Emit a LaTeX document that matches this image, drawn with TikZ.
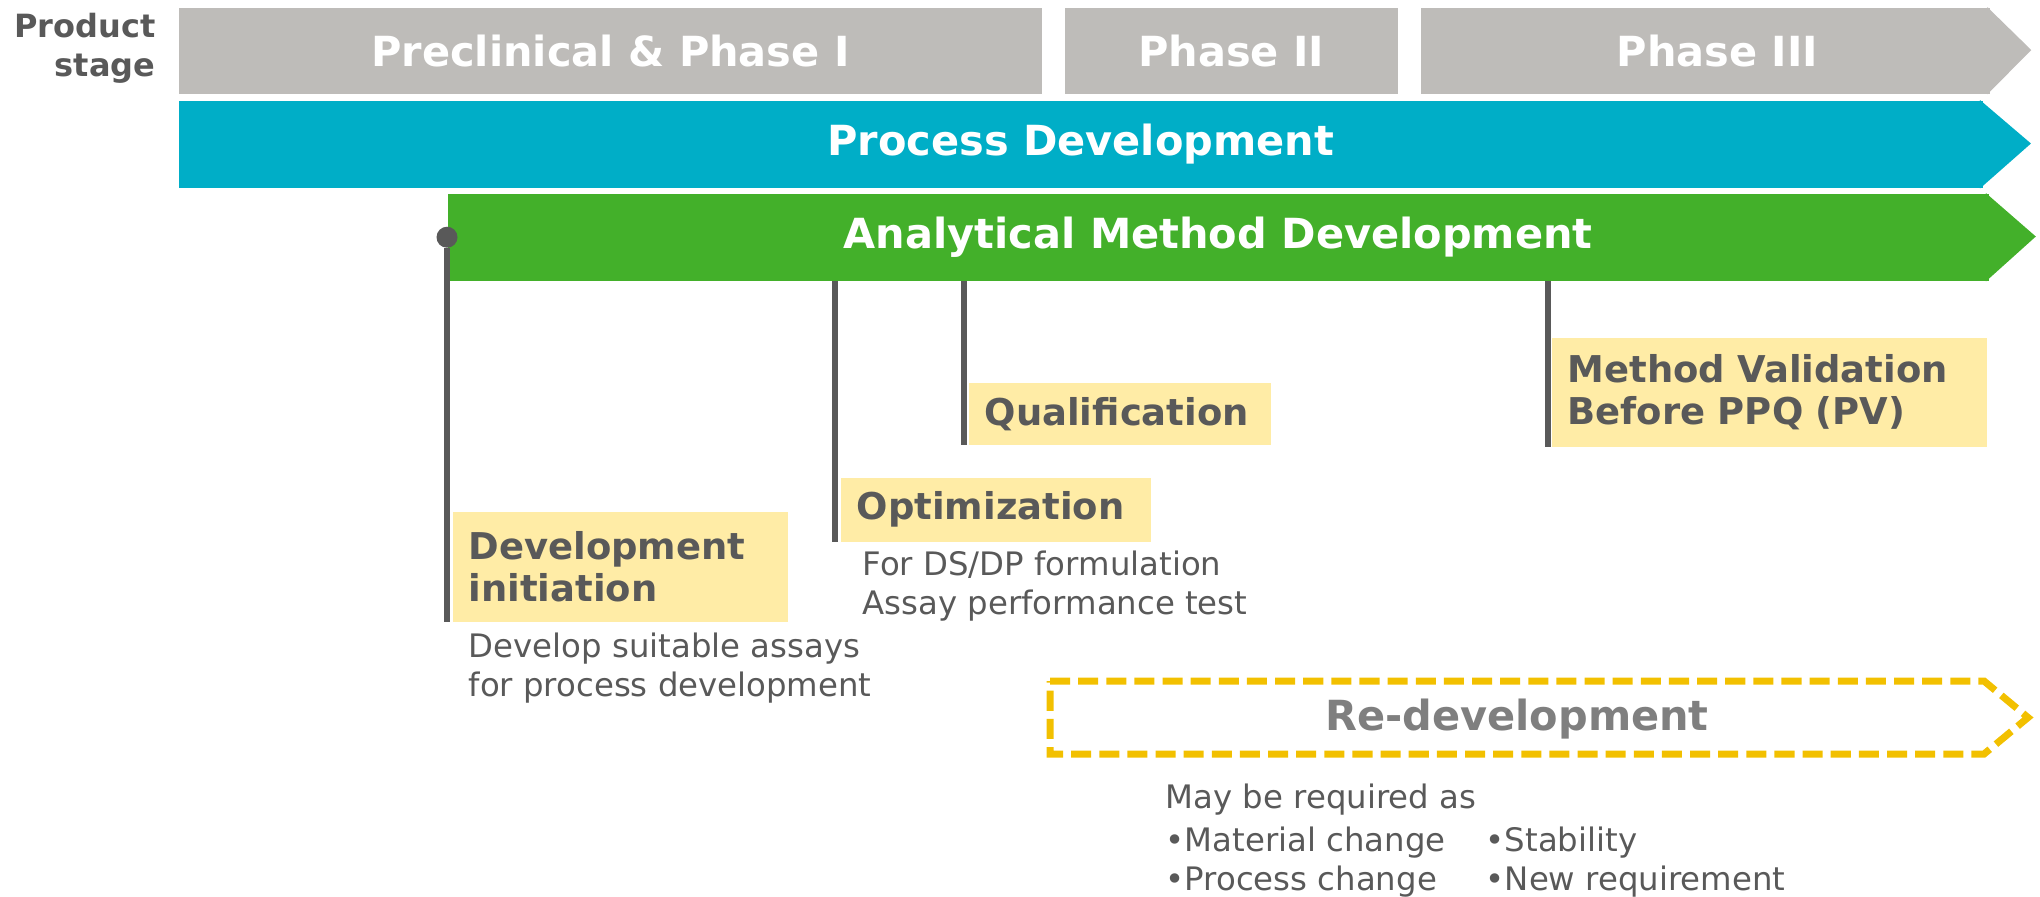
\documentclass[tikz,border=0pt]{standalone}
\usepackage{fontspec}
\setmainfont{DejaVu Sans}
\usetikzlibrary{positioning}

\definecolor{stagegray}{RGB}{190,188,185}
\definecolor{procblue}{RGB}{0,174,199}
\definecolor{amdgreen}{RGB}{67,176,42}
\definecolor{notefill}{RGB}{255,236,166}
\definecolor{inkgray}{RGB}{89,89,89}
\definecolor{redogold}{RGB}{242,192,0}
\definecolor{redotext}{RGB}{127,127,127}

\tikzset{
  bar/.style={anchor=north west,inner sep=0pt,minimum height=0.86cm,
    text=white,font=\fontsize{11.8}{14}\selectfont\bfseries},
  notebox/.style={anchor=north west,fill=notefill,text=inkgray,align=left,
    inner xsep=0.16cm,inner ysep=0pt,
    font=\fontsize{10.5}{12}\selectfont\bfseries},
  notetext/.style={anchor=west,inner sep=0pt,text=inkgray,align=left,
    font=\fontsize{9.2}{11.1}\selectfont},
  tick/.style={draw=inkgray,line width=1.9pt},
}

\begin{document}
\begin{tikzpicture}[x=0.01cm,y=-0.01cm]
  \useasboundingbox (0,0) rectangle (2040,896);

  % product stage
  \node[anchor=east,align=right,inner sep=0pt,text=inkgray,
    font=\fontsize{9.1}{11.1}\selectfont\bfseries] (stagelbl) at (156,48) {Product\\stage};
  \node[bar,fill=stagegray,minimum width=8.63cm] (pre) at (178,7) {Preclinical \& Phase I};
  \node[bar,fill=stagegray,minimum width=3.33cm] (ph2) at (1064,7) {Phase II};
  \node[bar,fill=stagegray,minimum width=5.69cm] (ph3) at (1420,7) {\hspace*{0.24cm}Phase III};
  \fill[stagegray] ([xshift=-1pt]ph3.north east) -- ++(44,43) -- ([xshift=-1pt]ph3.south east) -- cycle;

  % process development
  \node[bar,fill=procblue,minimum width=18.03cm,minimum height=0.87cm] (proc) at (178,100) {Process Development};
  \fill[procblue] ([xshift=-1pt]proc.north east) -- ++(51,43.5) -- ([xshift=-1pt]proc.south east) -- cycle;

  % analytical method development
  \node[bar,fill=amdgreen,minimum width=15.40cm,minimum height=0.87cm] (amd) at (447,193) {Analytical Method Development};
  \fill[amdgreen] ([xshift=-1pt]amd.north east) -- ++(50,43.5) -- ([xshift=-1pt]amd.south east) -- cycle;

  % milestones
  \node[notebox,text width=3.03cm,minimum height=1.10cm] (initbox) at (452,511) {Development\\initiation};
  \node[notebox,text width=2.78cm,minimum height=0.64cm] (optbox) at (840,477) {Optimization};
  \node[notebox,text width=2.70cm,minimum height=0.62cm] (qualbox) at (968,382) {Qualification};
  \node[notebox,text width=4.03cm,minimum height=1.09cm] (valbox) at (1551,337) {Method Validation\\Before PPQ (PV)};

  \node[circle,fill=inkgray,minimum size=0.21cm,inner sep=0pt] (startdot) at (amd.west) {};
  \draw[tick] (startdot) -- (startdot |- initbox.south);
  \coordinate (opttick) at ([xshift=-0.05cm]optbox.south west);
  \draw[tick] (opttick |- amd.south) -- (opttick);
  \coordinate (qualtick) at ([xshift=-0.04cm]qualbox.south west);
  \draw[tick] (qualtick |- amd.south) -- (qualtick);
  \coordinate (valtick) at ([xshift=-0.03cm]valbox.south west);
  \draw[tick] (valtick |- amd.south) -- (valtick);

  \node[notetext] (initnote) at (468,668) {Develop suitable assays\\for process development};
  \node[notetext] (optnote) at (862,586) {For DS/DP formulation\\Assay performance test};

  % re-development
  \draw[redogold,line width=2pt,dash pattern=on 5.7pt off 2.3pt]
    (1050,681) -- (1984,681) -- (2028,717.5) -- (1984,754) -- (1050,754) -- cycle;
  \node[text=redotext,font=\fontsize{11.8}{14}\selectfont\bfseries] (redo) at (1517,719) {Re-development};

  \node[notetext] (reqhead) at (1165,800) {May be required as};
  \node[notetext] (reqleft) at (1165,862) {•Material change\\•Process change};
  \node[notetext] (reqright) at (1485,862) {•Stability\\•New requirement};
\end{tikzpicture}
\end{document}
